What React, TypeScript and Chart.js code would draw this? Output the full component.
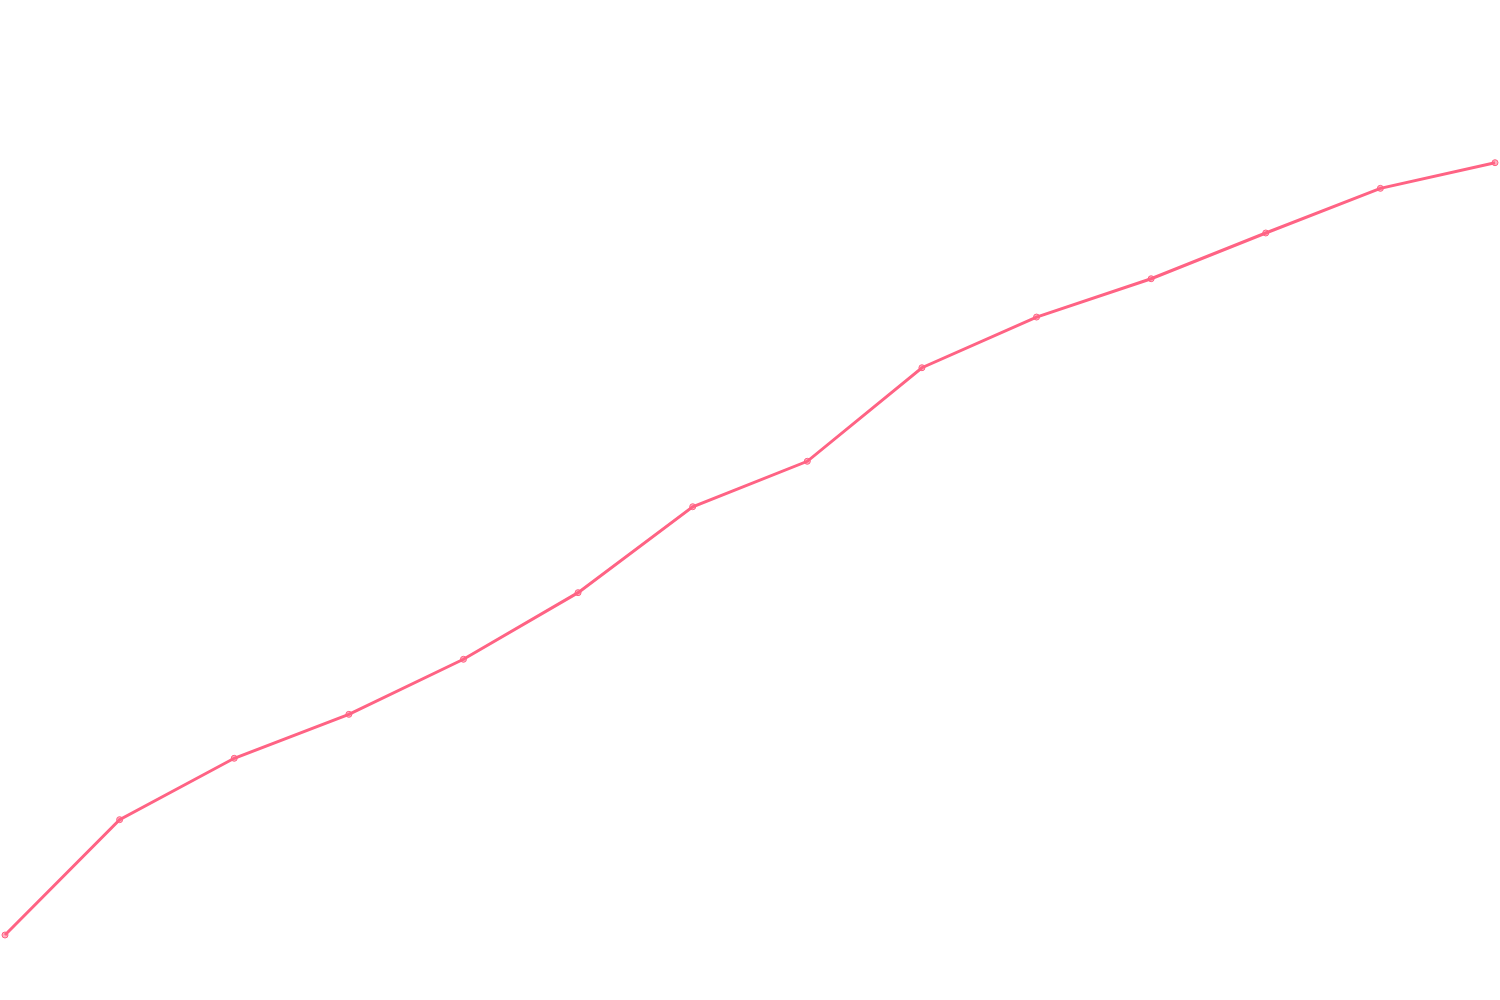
import { useEffect, useRef } from "react";
import { Chart, registerables } from "chart.js";

Chart.register(...registerables);

// Categories (no visible labels in the reference)
const labels = ["1", "2", "3", "4", "5", "6", "7", "8", "9", "10", "11", "12", "13", "14"];

// Series values (hidden y axis, 0–100)
const values = [6.06, 17.71, 23.91, 28.35, 33.91, 40.64, 49.32, 53.91, 63.36, 68.48, 72.35, 76.97, 81.48, 84.07];

const yMin = 0;
const yMax = 100;

export default function App() {
  const canvasRef = useRef<HTMLCanvasElement>(null);

  useEffect(() => {
    const canvas = canvasRef.current;
    if (!canvas) return;
    const ctx = canvas.getContext("2d");
    if (!ctx) return;

    const chart = new Chart(ctx, {
      type: "line",
      data: {
        labels,
        datasets: [
          {
            label: "Series",
            data: values,
            borderColor: "rgb(255, 99, 132)",
            backgroundColor: "rgba(255, 99, 132, 0.5)",
            borderWidth: 3,
            pointRadius: 3,
            pointBorderWidth: 1,
            tension: 0,
            fill: false,
          },
        ],
      },
      options: {
        animation: false,
        responsive: true,
        maintainAspectRatio: false,
        plugins: {
          legend: { display: false },
          tooltip: { enabled: false },
        },
        scales: {
          x: { display: false },
          y: { display: false, min: yMin, max: yMax },
        },
      },
    });

    return () => chart.destroy();
  }, []);

  return (
    <div
      style={{
        position: "fixed",
        left: 0,
        top: 0,
        width: 1500,
        height: 1000,
        background: "#fff",
      }}
    >
      <canvas ref={canvasRef}></canvas>
    </div>
  );
}
